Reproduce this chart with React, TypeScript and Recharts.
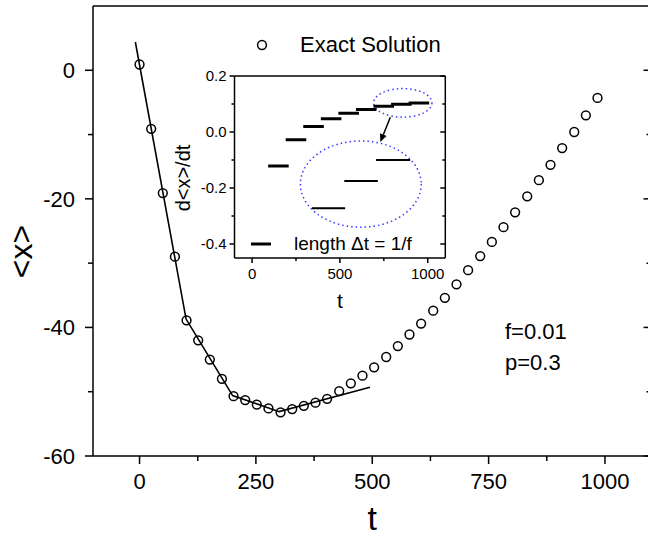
import React from "react";
import {
  ComposedChart,
  Scatter,
  Line,
  XAxis,
  YAxis,
  Legend,
  Label,
  ReferenceArea,
  ReferenceLine,
} from "recharts";

const FONT = '"Liberation Sans", Arial, Helvetica, sans-serif';

// main panel: exact solution <x>(t)
const exactT = [
  0, 25, 50, 76, 101, 126, 151, 177, 202, 227, 252, 277, 303, 328, 353, 378, 403, 429, 454, 479,
  504, 530, 555, 580, 605, 631, 656, 681, 706, 732, 757, 782, 807, 833, 858, 883, 908, 934, 959, 984,
];
const exactX = [
  0.9, -9.1, -19.1, -29.0, -38.9, -42.0, -45.0, -48.0, -50.7, -51.3, -52.0, -52.6, -53.2, -52.7,
  -52.2, -51.7, -51.1, -49.9, -48.7, -47.5, -46.2, -44.6, -42.9, -41.1, -39.4, -37.4, -35.4, -33.3,
  -31.1, -28.9, -26.7, -24.4, -22.1, -19.6, -17.1, -14.7, -12.1, -9.6, -7.0, -4.3,
];

// piecewise linear approximation (solid line)
const fitT = [-9, 100, 200, 300, 495];
const fitX = [4.4, -38.7, -50.6, -53.1, -49.3];

const mainXTicks = [0, 125, 250, 375, 500, 625, 750, 875, 1000];
const mainXMajor = [0, 250, 500, 750, 1000];
const mainYTicks = [-60, -50, -40, -30, -20, -10, 0];
const mainYMajor = [-60, -40, -20, 0];

// inset: d<x>/dt, one step per period 1/f
const stepStart = [100, 200, 300, 400, 500, 600, 700, 800, 900];
const stepSlope = [-0.121, -0.028, 0.02, 0.047, 0.067, 0.08, 0.092, 0.099, 0.104];
const stepLength = 100;

// magnified copy of the last three steps
const zoomStart = [341, 525, 706];
const zoomEnd = [530, 716, 900];
const zoomSlope = [-0.272, -0.175, -0.1];

const insetXTicks = [0, 250, 500, 750, 1000];
const insetXMajor = [0, 500, 1000];
const insetYTicks = [-0.4, -0.3, -0.2, -0.1, 0, 0.1, 0.2];
const insetYMajor = [-0.4, -0.2, 0, 0.2];

// annotation ellipses (centre t, centre value, half width, half height) and arrow
const smallEllipse = { t: 858, v: 0.104, dt: 166, dv: 0.051 };
const bigEllipse = { t: 619, v: -0.186, dt: 344, dv: 0.154 };
const arrowFrom = { x: 787, y: 0.053 };
const arrowTo = { x: 730, y: -0.036 };

const exactData = exactT.map((t, i) => ({ t, v: exactX[i] }));
const fitData = fitT.map((t, i) => ({ t, v: fitX[i] }));
const stepData = stepStart.flatMap((t, i) => [
  { t, v: stepSlope[i] },
  { t: t + stepLength, v: stepSlope[i] },
  { t: t + stepLength, v: null },
]);
const zoomData = zoomStart.flatMap((t, i) => [
  { t, v: zoomSlope[i] },
  { t: zoomEnd[i], v: zoomSlope[i] },
  { t: zoomEnd[i], v: null },
]);

type Side = "bottom" | "left" | "top" | "right";

function axisTick(
  side: Side,
  major: number[],
  big: number,
  small: number,
  fontSize = 0,
  gap = 0,
  fmt: (v: number) => string = (v) => String(v)
) {
  return (p: any) => {
    const v = p.payload.value;
    const isMajor = major.includes(v);
    const len = isMajor ? big : small;
    const { x, y } = p;
    const vertical = side === "bottom" || side === "top";
    const x2 = vertical ? x : x - len;
    const y2 = vertical ? y + len : y;
    let label = null;
    if (isMajor && fontSize > 0) {
      label =
        side === "bottom" ? (
          <text x={x} y={y + gap} dy="0.35em" textAnchor="middle" fontSize={fontSize} fontFamily={FONT} fill="#000">
            {fmt(v)}
          </text>
        ) : (
          <text x={x - gap} y={y} dy="0.35em" textAnchor="end" fontSize={fontSize} fontFamily={FONT} fill="#000">
            {fmt(v)}
          </text>
        );
    }
    return (
      <g>
        <line x1={x} y1={y} x2={x2} y2={y2} stroke="#000" strokeWidth={1.5} />
        {label}
      </g>
    );
  };
}

const axisLine = { stroke: "#000", strokeWidth: 1.5 };

const openCircle = (p: any) => (
  <circle cx={p.cx} cy={p.cy} r={4.4} fill="none" stroke="#000" strokeWidth={1.5} />
);

const ellipseShape = (p: any) => (
  <ellipse
    cx={p.x + p.width / 2}
    cy={p.y + p.height / 2}
    rx={Math.abs(p.width) / 2}
    ry={Math.abs(p.height) / 2}
    fill="none"
    stroke="#3c3cff"
    strokeWidth={1.5}
    strokeDasharray="1.5 3"
  />
);

const arrowShape = (p: any) => {
  const { x1, y1, x2, y2 } = p;
  const a = Math.atan2(y2 - y1, x2 - x1);
  const c = Math.cos(a);
  const s = Math.sin(a);
  const bx = x2 - 8 * c;
  const by = y2 - 8 * s;
  const pts = `${x2},${y2} ${bx - 3.5 * s},${by + 3.5 * c} ${bx + 3.5 * s},${by - 3.5 * c}`;
  return (
    <g>
      <line x1={x1} y1={y1} x2={bx} y2={by} stroke="#000" strokeWidth={1.5} />
      <polygon points={pts} fill="#000" />
    </g>
  );
};

function MainLegend(props: any) {
  const item = (props.payload || [])[0];
  return (
    <div style={{ display: "flex", alignItems: "center", height: 26, fontFamily: FONT, fontSize: 22, color: "#000", whiteSpace: "nowrap" }}>
      <svg width={20} height={20}>
        <circle cx={10} cy={10} r={4.4} fill="none" stroke="#000" strokeWidth={1.5} />
      </svg>
      <span style={{ marginLeft: 28 }}>{item ? item.value : ""}</span>
    </div>
  );
}

function InsetLegend(props: any) {
  const item = (props.payload || [])[0];
  return (
    <div style={{ display: "flex", alignItems: "center", height: 24, fontFamily: FONT, fontSize: 19, lineHeight: "24px", color: "#000", whiteSpace: "nowrap" }}>
      <svg width={22} height={24}>
        <line x1={1} y1={12} x2={21} y2={12} stroke="#000" strokeWidth={3} />
      </svg>
      <span style={{ marginLeft: 22 }}>{item ? item.value : ""}</span>
    </div>
  );
}

export default function App() {
  return (
    <div style={{ position: "absolute", left: 0, top: 0, width: 648, height: 537, overflow: "hidden", background: "#fff" }}>
      <div style={{ position: "absolute", left: 0, top: 0 }}>
        <ComposedChart width={660} height={537} margin={{ top: 5, right: 7.5, bottom: 0, left: 0 }}>
          <XAxis
            xAxisId="b"
            type="number"
            dataKey="t"
            domain={[-100, 1100]}
            allowDataOverflow
            ticks={mainXTicks}
            interval={0}
            height={81}
            tickSize={0}
            tickMargin={0}
            tickLine={false}
            axisLine={axisLine}
            tick={axisTick("bottom", mainXMajor, 8, 5, 22, 25)}
          >
            <Label
              content={(p: any) => (
                <text
                  x={p.viewBox.x + p.viewBox.width / 2}
                  y={p.viewBox.y + 74}
                  textAnchor="middle"
                  fontSize={34}
                  fontFamily={FONT}
                  fill="#000"
                >
                  t
                </text>
              )}
            />
          </XAxis>
          <XAxis
            xAxisId="t"
            orientation="top"
            type="number"
            domain={[-100, 1100]}
            allowDataOverflow
            ticks={mainXTicks}
            interval={0}
            height={1}
            tickSize={0}
            tickMargin={0}
            tickLine={false}
            axisLine={axisLine}
            tick={axisTick("top", mainXMajor, 8, 5)}
          />
          <YAxis
            yAxisId="l"
            type="number"
            dataKey="v"
            domain={[-60, 10]}
            allowDataOverflow
            ticks={mainYTicks}
            interval={0}
            width={93}
            tickSize={0}
            tickMargin={0}
            tickLine={false}
            axisLine={axisLine}
            tick={axisTick("left", mainYMajor, 8, 5, 22, 18)}
          >
            <Label
              content={(p: any) => {
                const cx = p.viewBox.x + 32;
                const cy = p.viewBox.y + p.viewBox.height / 2 + 20.5;
                return (
                  <text
                    x={cx}
                    y={cy}
                    transform={`rotate(-90, ${cx}, ${cy})`}
                    textAnchor="middle"
                    fontSize={32}
                    fontFamily={FONT}
                    fill="#000"
                  >
                    {"<x>"}
                  </text>
                );
              }}
            />
          </YAxis>
          <YAxis
            yAxisId="r"
            orientation="right"
            type="number"
            domain={[-60, 10]}
            allowDataOverflow
            ticks={mainYTicks}
            interval={0}
            width={1}
            tickSize={0}
            tickMargin={0}
            tickLine={false}
            axisLine={axisLine}
            tick={axisTick("right", mainYMajor, 8, 5)}
          />
          <Line
            xAxisId="b"
            yAxisId="l"
            data={fitData}
            dataKey="v"
            type="linear"
            stroke="#000"
            strokeWidth={1.6}
            dot={false}
            activeDot={false}
            legendType="none"
            isAnimationActive={false}
          />
          <Scatter
            xAxisId="b"
            yAxisId="l"
            data={exactData}
            name="Exact Solution"
            shape={openCircle}
            isAnimationActive={false}
          />
          <Legend
            layout="horizontal"
            align="center"
            verticalAlign="middle"
            wrapperStyle={{ left: 252, top: 32, width: 230, height: 26 }}
            content={MainLegend}
          />
        </ComposedChart>
      </div>

      <svg width={648} height={537} style={{ position: "absolute", left: 0, top: 0, pointerEvents: "none" }}>
        <text x={505} y={338.5} fontSize={22} fontFamily={FONT} fill="#000">f=0.01</text>
        <text x={505} y={369.5} fontSize={22} fontFamily={FONT} fill="#000">p=0.3</text>
      </svg>

      <div style={{ position: "absolute", left: 150, top: 60 }}>
        <ComposedChart width={300} height={260} margin={{ top: 15, right: 3.7, bottom: 0, left: 0 }}>
          <XAxis
            xAxisId="b"
            type="number"
            dataKey="t"
            domain={[-100, 1100]}
            allowDataOverflow
            ticks={insetXTicks}
            interval={0}
            height={62}
            tickSize={0}
            tickMargin={0}
            tickLine={false}
            axisLine={axisLine}
            tick={axisTick("bottom", insetXMajor, 5, 3, 15, 15.5)}
          >
            <Label
              content={(p: any) => (
                <text
                  x={p.viewBox.x + p.viewBox.width / 2}
                  y={p.viewBox.y + 50}
                  textAnchor="middle"
                  fontSize={21}
                  fontFamily={FONT}
                  fill="#000"
                >
                  t
                </text>
              )}
            />
          </XAxis>
          <XAxis
            xAxisId="t"
            orientation="top"
            type="number"
            domain={[-100, 1100]}
            allowDataOverflow
            ticks={insetXTicks}
            interval={0}
            height={1}
            tickSize={0}
            tickMargin={0}
            tickLine={false}
            axisLine={axisLine}
            tick={axisTick("top", insetXMajor, 5, 3)}
          />
          <YAxis
            yAxisId="l"
            type="number"
            dataKey="v"
            domain={[-0.45, 0.2]}
            allowDataOverflow
            ticks={insetYTicks}
            interval={0}
            width={84.5}
            tickSize={0}
            tickMargin={0}
            tickLine={false}
            axisLine={axisLine}
            tick={axisTick("left", insetYMajor, 5, 3, 15, 8, (v) => v.toFixed(1))}
          >
            <Label
              content={(p: any) => {
                const cx = p.viewBox.x + 40;
                const cy = p.viewBox.y + p.viewBox.height / 2 + 11;
                return (
                  <text
                    x={cx}
                    y={cy}
                    transform={`rotate(-90, ${cx}, ${cy})`}
                    textAnchor="middle"
                    fontSize={20}
                    fontFamily={FONT}
                    fill="#000"
                  >
                    {"d<x>/dt"}
                  </text>
                );
              }}
            />
          </YAxis>
          <YAxis
            yAxisId="r"
            orientation="right"
            type="number"
            domain={[-0.45, 0.2]}
            allowDataOverflow
            ticks={insetYTicks}
            interval={0}
            width={1}
            tickSize={0}
            tickMargin={0}
            tickLine={false}
            axisLine={axisLine}
            tick={axisTick("right", insetYMajor, 5, 3)}
          />
          <ReferenceArea
            xAxisId="b"
            yAxisId="l"
            x1={smallEllipse.t - smallEllipse.dt}
            x2={smallEllipse.t + smallEllipse.dt}
            y1={smallEllipse.v - smallEllipse.dv}
            y2={smallEllipse.v + smallEllipse.dv}
            shape={ellipseShape}
          />
          <ReferenceArea
            xAxisId="b"
            yAxisId="l"
            x1={bigEllipse.t - bigEllipse.dt}
            x2={bigEllipse.t + bigEllipse.dt}
            y1={bigEllipse.v - bigEllipse.dv}
            y2={bigEllipse.v + bigEllipse.dv}
            shape={ellipseShape}
          />
          <ReferenceLine xAxisId="b" yAxisId="l" segment={[arrowFrom, arrowTo]} shape={arrowShape} />
          <Line
            xAxisId="b"
            yAxisId="l"
            data={stepData}
            dataKey="v"
            name="length Δt = 1/f"
            type="linear"
            stroke="#000"
            strokeWidth={3}
            strokeLinecap="square"
            dot={false}
            activeDot={false}
            isAnimationActive={false}
          />
          <Line
            xAxisId="b"
            yAxisId="l"
            data={zoomData}
            dataKey="v"
            type="linear"
            stroke="#000"
            strokeWidth={2}
            dot={false}
            activeDot={false}
            legendType="none"
            isAnimationActive={false}
          />
          <Legend
            layout="horizontal"
            align="center"
            verticalAlign="middle"
            wrapperStyle={{ left: 100, top: 171.5, width: 190, height: 24 }}
            content={InsetLegend}
          />
        </ComposedChart>
      </div>
    </div>
  );
}
